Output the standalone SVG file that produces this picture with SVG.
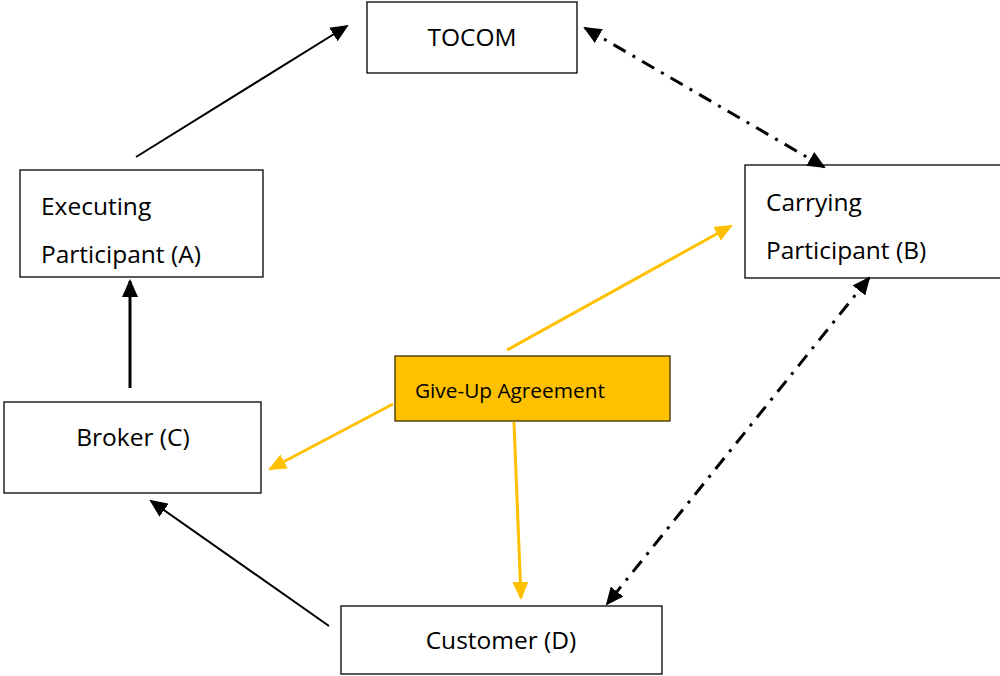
<svg xmlns="http://www.w3.org/2000/svg" width="1000" height="676" viewBox="0 0 1000 676">
<style>
.box{fill:#fff;stroke:#000;stroke-width:1.3}
.gu{fill:#FFC000;stroke:#3a2f00;stroke-width:1.3}
.t{font-family:"Open Sans","Liberation Sans",sans-serif;font-size:24.5px;fill:#000}
.ts{font-family:"Open Sans","Liberation Sans",sans-serif;font-size:20.8px;fill:#000}
.k{stroke:#000;stroke-width:2;fill:none}
.dd{stroke:#000;stroke-width:3;fill:none;stroke-dasharray:14 8 3 8}
.y{stroke:#FFC000;stroke-width:3;fill:none}
</style>
<defs>
<marker id="ak" markerUnits="userSpaceOnUse" markerWidth="18" markerHeight="16" refX="16" refY="8" orient="auto-start-reverse" viewBox="0 0 18 16"><path d="M0,0 L18,8 L0,16 Z" fill="#000"/></marker>
<marker id="ay" markerUnits="userSpaceOnUse" markerWidth="18" markerHeight="16" refX="16" refY="8" orient="auto" viewBox="0 0 18 16"><path d="M0,0 L18,8 L0,16 Z" fill="#FFC000"/></marker>
</defs>
<g id="tocom"><rect class="box" x="367" y="2" width="210" height="71"/><text class="t" x="472" y="46" text-anchor="middle">TOCOM</text></g>
<g id="executing"><rect class="box" x="20" y="170" width="243" height="107"/><text class="t" x="41" y="215">Executing</text><text class="t" x="41" y="263">Participant (A)</text></g>
<g id="carrying"><rect class="box" x="745" y="165" width="260" height="113"/><text class="t" x="766" y="211">Carrying</text><text class="t" x="766" y="259">Participant (B)</text></g>
<g id="broker"><rect class="box" x="4" y="402" width="257" height="91"/><text class="t" x="133" y="446" text-anchor="middle">Broker (C)</text></g>
<g id="customer"><rect class="box" x="341" y="606" width="321" height="68"/><text class="t" x="501" y="649" text-anchor="middle">Customer (D)</text></g>
<g id="giveup"><rect class="gu" x="395" y="356" width="275" height="65"/><text class="ts" x="415" y="398">Give-Up Agreement</text></g>
<g id="connectors">
<line class="k" x1="136" y1="157" x2="347" y2="26" marker-end="url(#ak)"/>
<line class="k" style="stroke-width:3" x1="130" y1="388" x2="130" y2="281" marker-end="url(#ak)"/>
<line class="k" x1="329" y1="626" x2="151" y2="501" marker-end="url(#ak)"/>
<line class="dd" x1="585" y1="28" x2="824" y2="167" marker-start="url(#ak)" marker-end="url(#ak)"/>
<line class="dd" x1="869" y1="278" x2="607" y2="604" marker-start="url(#ak)" marker-end="url(#ak)"/>
<line class="y" x1="507" y1="350" x2="731" y2="226" marker-end="url(#ay)"/>
<line class="y" x1="393" y1="404" x2="270" y2="469" marker-end="url(#ay)"/>
<line class="y" x1="514" y1="422" x2="521" y2="598" marker-end="url(#ay)"/>
</g>
</svg>
